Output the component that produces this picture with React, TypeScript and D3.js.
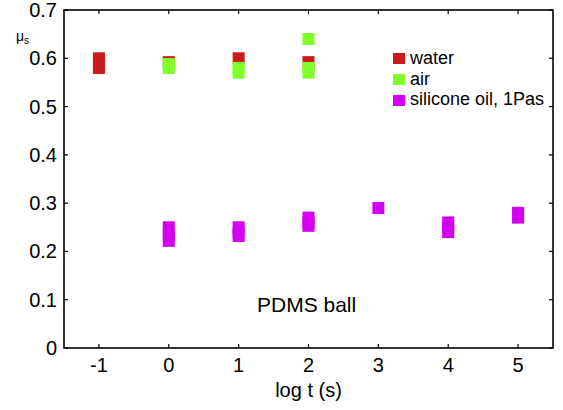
import React from "react";
import * as d3 from "d3";

// Static friction coefficient of a PDMS ball vs. log of contact time
const waterLogT = [-1, -1, -1, 0, 1, 2];
const waterMu = [0.6, 0.59, 0.58, 0.592, 0.6, 0.592];

const airLogT = [0, 0, 1, 1, 2, 2, 2];
const airMu = [0.588, 0.58, 0.58, 0.57, 0.64, 0.58, 0.57];

const oilLogT = [0, 0, 0, 1, 1, 1, 2, 2, 2, 3, 4, 4, 4, 5, 5];
const oilMu = [0.25, 0.235, 0.222, 0.25, 0.24, 0.232, 0.27, 0.26, 0.253, 0.29, 0.26, 0.25, 0.24, 0.28, 0.27];

const xTicks = [-1, 0, 1, 2, 3, 4, 5];
const xTickLabels = ["-1", "0", "1", "2", "3", "4", "5"];
const yTicks = [0, 0.1, 0.2, 0.3, 0.4, 0.5, 0.6, 0.7];
const yTickLabels = ["0", "0.1", "0.2", "0.3", "0.4", "0.5", "0.6", "0.7"];

const seriesNames = ["water", "air", "silicone oil, 1Pas"];
const seriesColors = ["#cc1a1a", "#80ff2a", "#d500f0"];

const W = 563;
const H = 410;
const left = 64;
const right = 553;
const top = 10;
const bottom = 348;
const FONT = "'Liberation Sans', Arial, Helvetica, sans-serif";
const MARK = 12;
const TICK = 4;

export default function App() {
  const x = d3.scaleLinear().domain([-1.5, 5.5]).range([left, right]);
  const y = d3.scaleLinear().domain([0, 0.7]).range([bottom, top]);

  const series = [
    { t: waterLogT, mu: waterMu },
    { t: airLogT, mu: airMu },
    { t: oilLogT, mu: oilMu },
  ];

  return (
    <svg
      width={W}
      height={H}
      style={{ position: "absolute", left: 0, top: 0, background: "#fff" }}
      fontFamily={FONT}
    >
      {/* data markers */}
      {series.map((s, si) =>
        s.t.map((t, i) => (
          <rect
            key={`${si}-${i}`}
            x={x(t) - MARK / 2}
            y={y(s.mu[i]) - MARK / 2}
            width={MARK}
            height={MARK}
            fill={seriesColors[si]}
          />
        ))
      )}

      {/* frame */}
      <rect
        x={left}
        y={top}
        width={right - left}
        height={bottom - top}
        fill="none"
        stroke="#000"
        strokeWidth={1.6}
      />

      {/* x ticks (bottom and top, inward) */}
      {xTicks.map((t, i) => (
        <g key={`xt${i}`}>
          <line x1={x(t)} x2={x(t)} y1={bottom} y2={bottom - TICK} stroke="#000" strokeWidth={1.2} />
          <line x1={x(t)} x2={x(t)} y1={top} y2={top + TICK} stroke="#000" strokeWidth={1.2} />
          <text x={x(t)} y={372} fontSize={20} textAnchor="middle" fill="#000">
            {xTickLabels[i]}
          </text>
        </g>
      ))}

      {/* y ticks (left and right, inward) */}
      {yTicks.map((v, i) => (
        <g key={`yt${i}`}>
          <line x1={left} x2={left + TICK} y1={y(v)} y2={y(v)} stroke="#000" strokeWidth={1.2} />
          <line x1={right} x2={right - TICK} y1={y(v)} y2={y(v)} stroke="#000" strokeWidth={1.2} />
          <text x={57} y={y(v) + 7} fontSize={20} textAnchor="end" fill="#000">
            {yTickLabels[i]}
          </text>
        </g>
      ))}

      {/* axis titles */}
      <text x={(left + right) / 2} y={397} fontSize={20} textAnchor="middle" fill="#000">
        log t (s)
      </text>
      <text x={16} y={41} fontSize={14} fill="#000">
        μ
        <tspan fontSize={10} dy={3}>s</tspan>
      </text>

      {/* annotation */}
      <text x={257} y={312} fontSize={21} fill="#000">
        PDMS ball
      </text>

      {/* legend */}
      {seriesNames.map((name, i) => (
        <g key={`lg${i}`}>
          <rect x={393} y={53 + i * 21} width={12} height={11} fill={seriesColors[i]} />
          <text x={410} y={64 + i * 20.5} fontSize={18} fill="#000">
            {name}
          </text>
        </g>
      ))}
    </svg>
  );
}
